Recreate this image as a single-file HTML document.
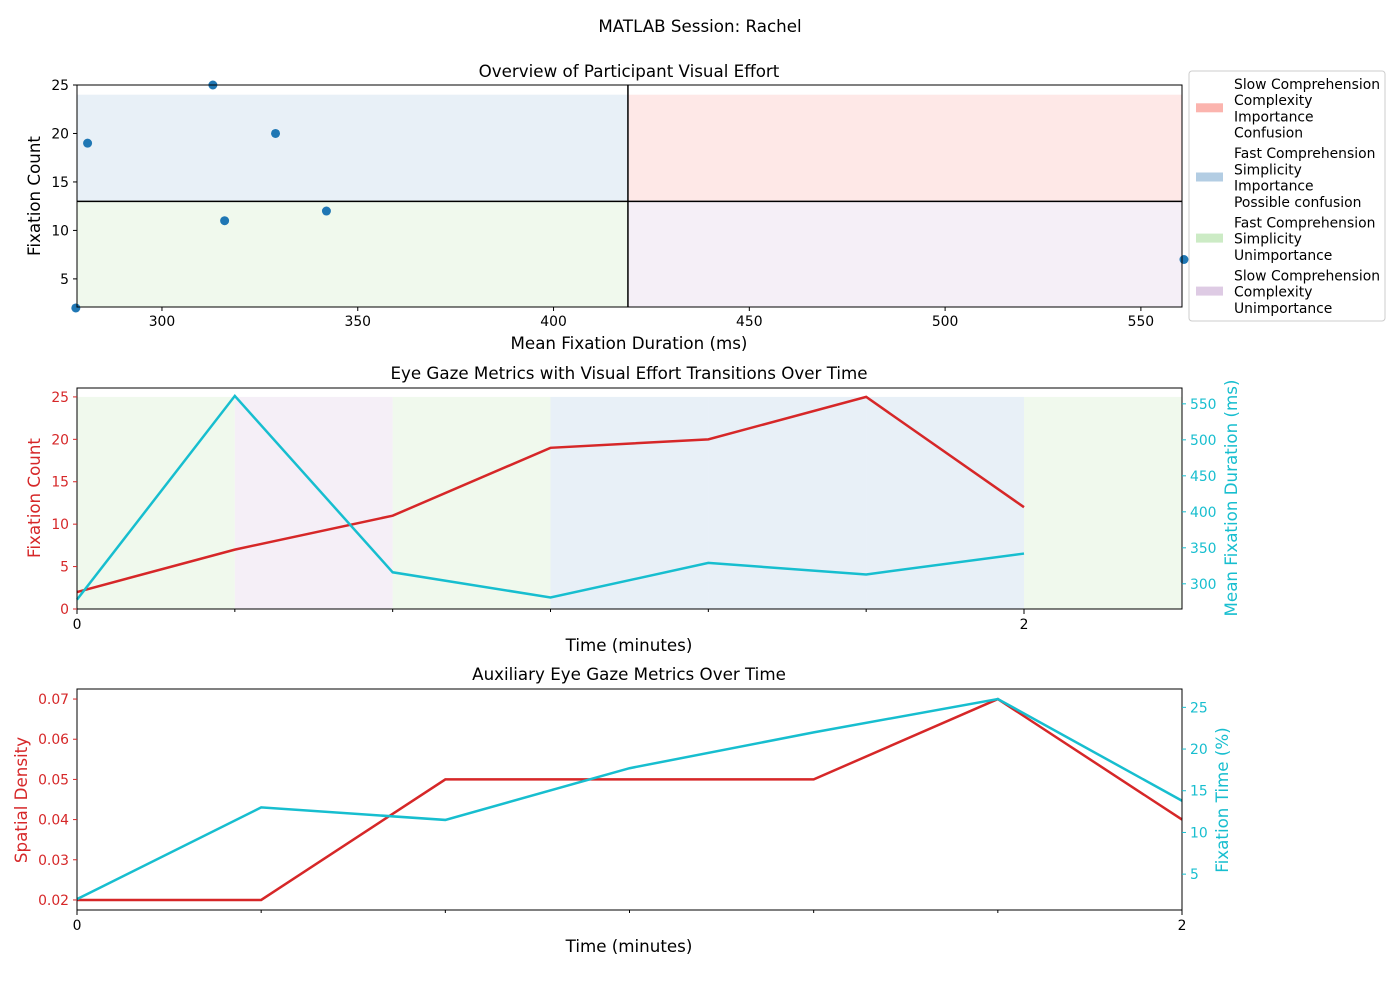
<!DOCTYPE html>
<html><head><meta charset="utf-8"><style>
body{margin:0;background:#fff;font-family:"DejaVu Sans","Liberation Sans",sans-serif}
svg text{font-family:"DejaVu Sans","Liberation Sans",sans-serif}
</style></head><body>
<svg id="c" width="1400" height="1000" xmlns="http://www.w3.org/2000/svg"></svg>
<script>
const durations=[278,561,316,281,329,313,342];
const counts=[2,7,11,19,20,25,12];
const times=[0,1/3,2/3,1,4/3,5/3,2];
const density=[0.02,0.02,0.05,0.05,0.05,0.07,0.04];
const fixTime=[2,13,11.5,17.7,22,26,13.8];
const durThresh=419, countThresh=13;
const scatterXTicks=[300,350,400,450,500,550];
const scatterYTicks=[5,10,15,20,25];
const p2LeftTicks=[0,5,10,15,20,25];
const p2RightTicks=[300,350,400,450,500,550];
const p3LeftTicks=[0.02,0.03,0.04,0.05,0.06,0.07];
const p3RightTicks=[5,10,15,20,25];
const quadColors={slowImp:'#fbb4ae',fastImp:'#b3cde3',fastUn:'#ccebc5',slowUn:'#decbe4'};
const legendEntries=[
 ['slowImp',['Slow Comprehension','Complexity','Importance','Confusion']],
 ['fastImp',['Fast Comprehension','Simplicity','Importance','Possible confusion']],
 ['fastUn',['Fast Comprehension','Simplicity','Unimportance']],
 ['slowUn',['Slow Comprehension','Complexity','Unimportance']]];
const S=document.getElementById('c');const NS='http://www.w3.org/2000/svg';
const TF=16.7, KF=13.9;
function el(t,a,p){const e=document.createElementNS(NS,t);for(const k in a)e.setAttribute(k,a[k]);(p||S).appendChild(e);return e;}
function txt(x,y,s,o){o=o||{};const e=el('text',{x:x,y:y,'font-size':o.fs||KF,fill:o.fill||'#000','text-anchor':o.anchor||'middle'});if(o.rot)e.setAttribute('transform','rotate(-90 '+x+' '+y+')');e.textContent=s;return e;}
function lin(d0,d1,r0,r1){return v=>r0+(v-d0)*(r1-r0)/(d1-d0);}
function quad(d,c){return d>durThresh?(c>countThresh?'slowImp':'slowUn'):(c>countThresh?'fastImp':'fastUn');}
const L=77,R=1182;
txt(700,32,'MATLAB Session: Rachel',{fs:TF});


// Panel 1
{const T=85,B=307;const x=lin(278.3,560.5,L,R),y=lin(2.1,25,B,T);
const g=el('g',{});
const xt=x(durThresh),yt=y(countThresh),ytop=y(24);
[[L,ytop,xt-L,yt-ytop,'fastImp'],[xt,ytop,R-xt,yt-ytop,'slowImp'],[L,yt,xt-L,B-yt,'fastUn'],[xt,yt,R-xt,B-yt,'slowUn']].forEach(q=>{
 const r=el('rect',{x:q[0],y:q[1],width:q[2],height:q[3],fill:quadColors[q[4]],opacity:0.3},g);
 });
el('line',{x1:xt,x2:xt,y1:T,y2:B,stroke:'#000','stroke-width':1.5},g);
el('line',{x1:L,x2:R,y1:yt,y2:yt,stroke:'#000','stroke-width':1.5},g);
durations.forEach((d,i)=>{const c=el('circle',{cx:x(d),cy:y(counts[i]),r:4.5,fill:'#1f77b4'},g);
 });
el('rect',{x:L,y:T,width:R-L,height:B-T,fill:'none',stroke:'#000','stroke-width':1},g);
scatterXTicks.forEach(v=>{el('line',{x1:x(v),x2:x(v),y1:B,y2:B+4,stroke:'#000'},g);txt(x(v),B+19,v);});
scatterYTicks.forEach(v=>{el('line',{x1:L-4,x2:L,y1:y(v),y2:y(v),stroke:'#000'},g);txt(L-8,y(v)+5,v,{anchor:'end'});});
txt(629,77,'Overview of Participant Visual Effort',{fs:TF});
txt(629,349,'Mean Fixation Duration (ms)',{fs:TF});
txt(40,196,'Fixation Count',{fs:TF,rot:1});
// legend
const lg=el('g',{});
el('rect',{x:1189,y:71,width:196,height:250,rx:3,fill:'#fff',stroke:'#ccc'},lg);
let yy=84;legendEntries.forEach(e=>{const n=e[1].length;const mid=yy+(n-1)*16.2/2;
 const p=el('rect',{x:1196,y:mid-5,width:27,height:9,fill:quadColors[e[0]]},lg);
 
 e[1].forEach((s,k)=>{txt(1234,yy+k*16.2+5,s,{anchor:'start'});});
 yy+=n*16.2+4.4;});}

// Panel 2
{const T=388,B=609;const x=lin(0,2,L,1024),y=lin(0,26.05,B,T),y2=lin(265,572,B,T);
const g=el('g',{});
times.forEach((t,i)=>{const x0=x(t),x1=i<times.length-1?x(times[i+1]):R;
 const r=el('rect',{x:x0,y:y(25),width:x1-x0,height:B-y(25),fill:quadColors[quad(durations[i],counts[i])],opacity:0.3},g);
 });
let p1=el('polyline',{points:times.map((t,i)=>x(t)+','+y(counts[i])).join(' '),fill:'none',stroke:'#d62728','stroke-width':2.5},g);

let p2=el('polyline',{points:times.map((t,i)=>x(t)+','+y2(durations[i])).join(' '),fill:'none',stroke:'#17becf','stroke-width':2.5},g);

el('rect',{x:L,y:T,width:R-L,height:B-T,fill:'none',stroke:'#000'},g);
times.forEach(t=>el('line',{x1:x(t),x2:x(t),y1:B,y2:B+3,stroke:'#000'},g));
[0,2].forEach(v=>{el('line',{x1:x(v),x2:x(v),y1:B,y2:B+5,stroke:'#000'},g);txt(x(v),B+20,v);});
p2LeftTicks.forEach(v=>{el('line',{x1:L-4,x2:L,y1:y(v),y2:y(v),stroke:'#d62728'},g);txt(L-8,y(v)+5,v,{anchor:'end',fill:'#d62728'});});
p2RightTicks.forEach(v=>{el('line',{x1:R,x2:R+4,y1:y2(v),y2:y2(v),stroke:'#17becf'},g);txt(R+8,y2(v)+5,v,{anchor:'start',fill:'#17becf'});});
txt(629,379,'Eye Gaze Metrics with Visual Effort Transitions Over Time',{fs:TF});
txt(629,651,'Time (minutes)',{fs:TF});
txt(40,498,'Fixation Count',{fs:TF,rot:1,fill:'#d62728'});
txt(1237,498,'Mean Fixation Duration (ms)',{fs:TF,rot:1,fill:'#17becf'});}

// Panel 3
{const T=689,B=910;const x=lin(0,2,L,R),y=lin(0.0175,0.0725,B,T),y2=lin(0.7,27.2,B,T);
const g=el('g',{});
let p1=el('polyline',{points:times.map((t,i)=>x(t)+','+y(density[i])).join(' '),fill:'none',stroke:'#d62728','stroke-width':2.5},g);

let p2=el('polyline',{points:times.map((t,i)=>x(t)+','+y2(fixTime[i])).join(' '),fill:'none',stroke:'#17becf','stroke-width':2.5},g);

el('rect',{x:L,y:T,width:R-L,height:B-T,fill:'none',stroke:'#000'},g);
times.forEach(t=>el('line',{x1:x(t),x2:x(t),y1:B,y2:B+3,stroke:'#000'},g));
[0,2].forEach(v=>{el('line',{x1:x(v),x2:x(v),y1:B,y2:B+5,stroke:'#000'},g);txt(x(v),B+20,v);});
p3LeftTicks.forEach(v=>{el('line',{x1:L-4,x2:L,y1:y(v),y2:y(v),stroke:'#d62728'},g);txt(L-8,y(v)+5,v.toFixed(2),{anchor:'end',fill:'#d62728'});});
p3RightTicks.forEach(v=>{el('line',{x1:R,x2:R+4,y1:y2(v),y2:y2(v),stroke:'#17becf'},g);txt(R+8,y2(v)+5,v,{anchor:'start',fill:'#17becf'});});
txt(629,680,'Auxiliary Eye Gaze Metrics Over Time',{fs:TF});
txt(629,952,'Time (minutes)',{fs:TF});
txt(27,800,'Spatial Density',{fs:TF,rot:1,fill:'#d62728'});
txt(1228,800,'Fixation Time (%)',{fs:TF,rot:1,fill:'#17becf'});}
</script>
</body></html>
